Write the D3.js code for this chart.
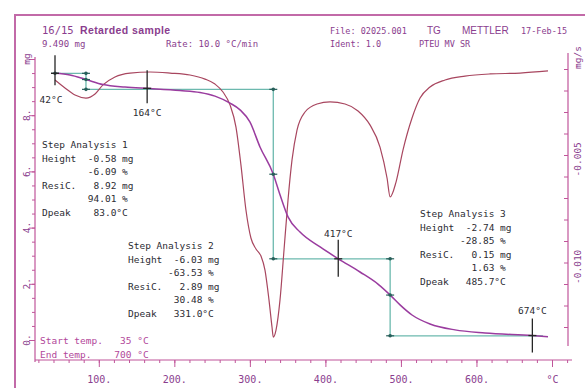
<!DOCTYPE html>
<html><head><meta charset="utf-8">
<script src="https://cdn.jsdelivr.net/npm/d3@7"></script>
<style>
html,body{margin:0;padding:0;background:#fff;}
svg{display:block;}
text{white-space:pre;}
</style></head><body>
<svg id="chart" width="585" height="388"></svg>
<script>
// TG curve: furnace temperature (°C) and remaining sample mass (mg)
const tgTemp = [42, 61.9, 83, 105.5, 134.7, 167.8, 207.5, 234, 253.8, 273.7, 287, 300, 313.4, 331, 340, 350.5, 366.4, 393, 417, 445.8, 469.6, 486.9, 498.8, 514.7, 538.5, 571.6, 611.3, 673.5, 694.7];
const tgMass = [9.49, 9.43, 9.27, 9.09, 9.0, 8.95, 8.88, 8.81, 8.68, 8.43, 8.19, 7.76, 6.87, 5.9, 5.16, 4.38, 3.84, 3.31, 2.89, 2.42, 1.99, 1.57, 1.25, 0.89, 0.57, 0.36, 0.25, 0.16, 0.12];

// DTG curve: temperature (°C) and mass-loss rate (mg/s)
const dtgTemp = [42, 55.2, 68.5, 83, 95, 105.5, 121.4, 141.3, 167.8, 194.3, 220.7, 240.6, 253.8, 264.4, 273.7, 281.6, 288.2, 294.8, 301.4, 308.1, 314.7, 320, 325.3, 329.3, 331, 334.6, 339.9, 345.2, 350.5, 355.8, 362.4, 373, 388.9, 406.1, 426, 443.2, 459, 472.3, 481.6, 485.7, 493.5, 502.7, 514.7, 525.3, 538.5, 558.4, 584.8, 617.9, 657.7, 694.7];
const dtgRate = [-0.00051, -0.00088, -0.00121, -0.00135, -0.00116, -0.00074, -0.00037, -0.00019, -0.00014, -0.00019, -0.00028, -0.00047, -0.0007, -0.00107, -0.00167, -0.0027, -0.00447, -0.00656, -0.00786, -0.00837, -0.0087, -0.00935, -0.01074, -0.012, -0.01247, -0.01214, -0.01074, -0.00842, -0.00609, -0.00423, -0.00284, -0.002, -0.00163, -0.00153, -0.00163, -0.00195, -0.0026, -0.00363, -0.00507, -0.00595, -0.00526, -0.00377, -0.00228, -0.00135, -0.00084, -0.00051, -0.00033, -0.00023, -0.00019, -0.00009];

// Step evaluation
const sampleMass = 9.49;
const evalStartTemp = 42;
const evalEndTemp = 688;
const stepPeakTemp = [83.0, 331.0, 485.7];
const stepResidue = [8.92, 2.89, 0.15];

// Temperature cursors
const markerTemp = [42, 164, 417, 674];
const markerLabel = ["42°C", "164°C", "417°C", "674°C"];

// Step analysis result blocks
const step1Lines = ["Step Analysis 1", "Height  -0.58 mg", "        -6.09 %", "ResiC.   8.92 mg", "        94.01 %", "Dpeak    83.0°C"];
const step2Lines = ["Step Analysis 2", "Height  -6.03 mg", "       -63.53 %", "ResiC.   2.89 mg", "        30.48 %", "Dpeak   331.0°C"];
const step3Lines = ["Step Analysis 3", "Height  -2.74 mg", "       -28.85 %", "ResiC.   0.15 mg", "         1.63 %", "Dpeak   485.7°C"];
const tempRangeLines = ["Start temp.   35 °C", "End temp.    700 °C"];

// Axis ticks
const tempTicks = [100, 200, 300, 400, 500, 600, 700];
const tempTickLabels = ["100.", "200.", "300.", "400.", "500.", "600.", "°C"];
const massTicks = [0, 2, 4, 6, 8, 10];
const massTickLabels = ["0.", "2.", "4.", "6.", "8.", "mg"];
const rateTicks = [0, -0.005, -0.010];
const rateTickLabels = ["mg/s", "-0.005", "-0.010"];

const C = {
  frame: "#c26aa8", axis: "#c0559a", head: "#8a3d8e", tg: "#9a3c9f",
  dtg: "#a8465f", step: "#6cb9ae", stepDot: "#275f5a", mark: "#262626", txt: "#2c2c33",
  range: "#b2479a"
};
const mono = "'DejaVu Sans Mono', monospace";
const sans = "'Liberation Sans', Arial, sans-serif";

const svg = d3.select("#chart");

const x = d3.scaleLinear().domain([42, 700]).range([55, 552]);
const yMass = d3.scaleLinear().domain([0, 10]).range([340, 59]);
const yRate = d3.scaleLinear().domain([0, -0.01]).range([69, 284]);

// outer frame
svg.append("path").attr("d", "M15,388 V15 H585")
  .attr("fill", "none").attr("stroke", C.frame).attr("stroke-width", 2);

// header texts
const head = svg.append("g").attr("fill", C.head).attr("font-family", mono).attr("font-size", 9);
const t1 = head.append("text").attr("x", 42).attr("y", 34);
t1.append("tspan").attr("font-size", 10.5).text("16/15 ");
t1.append("tspan").attr("font-family", sans).attr("font-weight", "bold").attr("font-size", 10.5)
  .attr("letter-spacing", 0.4).text("Retarded sample");
head.append("text").attr("x", 42).attr("y", 47).text("9.490 mg");
head.append("text").attr("x", 166).attr("y", 47).text("Rate: 10.0 °C/min");
head.append("text").attr("x", 330).attr("y", 34).attr("font-size", 8.5).text("File: 02025.001");
head.append("text").attr("x", 427).attr("y", 34).attr("font-family", sans).attr("font-size", 10).text("TG");
head.append("text").attr("x", 462).attr("y", 34).attr("font-family", sans).attr("font-size", 10).text("METTLER");
head.append("text").attr("x", 521).attr("y", 34).attr("font-size", 8.5).text("17-Feb-15");
head.append("text").attr("x", 330).attr("y", 47).attr("font-size", 8.5).text("Ident: 1.0");
head.append("text").attr("x", 419).attr("y", 47).attr("font-size", 8.5).text("PTEU MV SR");

// temperature axis
const xAxisY = 360;
svg.append("line").attr("x1", 35).attr("x2", 572).attr("y1", xAxisY).attr("y2", xAxisY)
  .attr("stroke", C.axis).attr("stroke-width", 1.2);
const xMinor = svg.append("g").attr("transform", `translate(0,${xAxisY})`)
  .call(d3.axisBottom(x).tickValues(d3.range(20, 721, 20)).tickSize(3).tickFormat(""));
const xMajor = svg.append("g").attr("transform", `translate(0,${xAxisY})`)
  .call(d3.axisBottom(x).tickValues(tempTicks).tickSize(7).tickPadding(9)
    .tickFormat((d, i) => tempTickLabels[i]));
[xMinor, xMajor].forEach(g => {
  g.select(".domain").remove();
  g.selectAll("line").attr("stroke", C.axis);
  g.selectAll("text").attr("fill", C.head).attr("font-family", mono).attr("font-size", 10);
});

// mass axis (left)
const yAxisX = 35;
svg.append("line").attr("x1", yAxisX).attr("x2", yAxisX).attr("y1", 57).attr("y2", xAxisY + 2)
  .attr("stroke", C.axis).attr("stroke-width", 1.2);
const yMinor = svg.append("g").attr("transform", `translate(${yAxisX},0)`)
  .call(d3.axisLeft(yMass).tickValues(d3.range(0, 10.01, 0.5)).tickSize(3).tickFormat(""));
const yMajor = svg.append("g").attr("transform", `translate(${yAxisX},0)`)
  .call(d3.axisLeft(yMass).tickValues(massTicks).tickSize(6).tickFormat(""));
[yMinor, yMajor].forEach(g => {
  g.select(".domain").remove();
  g.selectAll("line").attr("stroke", C.axis);
});
svg.append("g").selectAll("text").data(massTicks).join("text")
  .attr("transform", d => `translate(27,${yMass(d)}) rotate(-90)`)
  .attr("text-anchor", "middle").attr("dy", "0.35em")
  .attr("fill", C.head).attr("font-family", mono).attr("font-size", 9.5)
  .text((d, i) => massTickLabels[i]);

// rate axis (right)
const rAxisX = 568;
svg.append("line").attr("x1", rAxisX).attr("x2", rAxisX).attr("y1", 53).attr("y2", 346)
  .attr("stroke", C.axis).attr("stroke-width", 1.2);
const rAxis = svg.append("g").attr("transform", `translate(${rAxisX},0)`)
  .call(d3.axisLeft(yRate).tickValues(d3.range(0, -0.01251, -0.001)).tickSize(4).tickFormat(""));
rAxis.select(".domain").remove();
rAxis.selectAll("line").attr("stroke", C.axis);
svg.append("g").selectAll("text").data(rateTicks).join("text")
  .attr("transform", d => `translate(578,${yRate(d)}) rotate(-90)`)
  .attr("text-anchor", "start").attr("dy", "0.35em")
  .attr("fill", C.head).attr("font-family", mono).attr("font-size", 9.5)
  .text((d, i) => rateTickLabels[i]);

// mass on the TG curve at a given temperature
const tgAt = d3.scaleLinear().domain(tgTemp).range(tgMass);

// step evaluation lines
const stepPts = [[evalStartTemp, sampleMass]];
let prev = sampleMass;
stepPeakTemp.forEach((t, i) => {
  stepPts.push([t, prev]);
  stepPts.push([t, stepResidue[i]]);
  prev = stepResidue[i];
});
stepPts.push([evalEndTemp, prev]);
svg.append("path").datum(stepPts)
  .attr("d", d3.line().x(d => x(d[0])).y(d => yMass(d[1])))
  .attr("fill", "none").attr("stroke", C.step).attr("stroke-width", 1.3);

// DTG curve
svg.append("path").datum(dtgTemp.map((t, i) => [t, dtgRate[i]]))
  .attr("d", d3.line().curve(d3.curveMonotoneX).x(d => x(d[0])).y(d => yRate(d[1])))
  .attr("fill", "none").attr("stroke", C.dtg).attr("stroke-width", 1.2);

// TG curve
svg.append("path").datum(tgTemp.map((t, i) => [t, tgMass[i]]))
  .attr("d", d3.line().curve(d3.curveMonotoneX).x(d => x(d[0])).y(d => yMass(d[1])))
  .attr("fill", "none").attr("stroke", C.tg).attr("stroke-width", 1.5);

// evaluation points
const dots = [];
stepPts.slice(0, -1).forEach(p => dots.push(p));
stepPeakTemp.forEach(t => dots.push([t, tgAt(t)]));
const dg = svg.append("g");
dots.forEach(p => {
  dg.append("line").attr("x1", x(p[0]) - 4).attr("x2", x(p[0]) + 4)
    .attr("y1", yMass(p[1])).attr("y2", yMass(p[1]))
    .attr("stroke", C.stepDot).attr("stroke-width", 1.2);
  dg.append("circle").attr("cx", x(p[0])).attr("cy", yMass(p[1])).attr("r", 1.8).attr("fill", C.stepDot);
});

// temperature cursors
const cursorLayout = [
  { up: 18, down: 12, lx: -4, ly: 30 },
  { up: 18, down: 15, lx: 0, ly: 28 },
  { up: 19, down: 18, lx: 0, ly: -22 },
  { up: 17, down: 17, lx: 0, ly: -22 }
];
markerTemp.forEach((t, i) => {
  const cx = x(t), cy = yMass(tgAt(t)), L = cursorLayout[i];
  svg.append("line").attr("x1", cx).attr("x2", cx).attr("y1", cy - L.up).attr("y2", cy + L.down)
    .attr("stroke", C.mark).attr("stroke-width", 1.3);
  svg.append("line").attr("x1", cx - 4).attr("x2", cx + 4).attr("y1", cy).attr("y2", cy)
    .attr("stroke", C.mark).attr("stroke-width", 1.3);
  svg.append("text").attr("x", cx + L.lx).attr("y", cy + L.ly).attr("text-anchor", "middle")
    .attr("fill", C.txt).attr("font-family", mono).attr("font-size", 9.5).text(markerLabel[i]);
});

// result blocks
function block(lines, x0, y0, color) {
  svg.append("g").selectAll("text").data(lines).join("text")
    .attr("x", x0).attr("y", (d, i) => y0 + i * 13.6)
    .attr("fill", color).attr("font-family", mono).attr("font-size", 9.5)
    .text(d => d);
}
block(step1Lines, 42, 148, C.txt);
block(step2Lines, 128, 249, C.txt);
block(step3Lines, 420, 217, C.txt);
block(tempRangeLines, 40, 344, C.range);
</script>
</body></html>
